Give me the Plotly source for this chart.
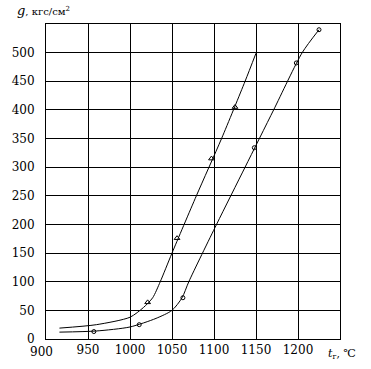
import plotly.graph_objects as go

# curve 1 (triangles)
c1_x = [916, 960, 1000, 1016, 1027, 1036, 1050, 1079, 1109, 1137, 1150]
c1_y = [19, 25, 38, 55, 72, 100, 150, 250, 350, 450, 499]
p1_x = [1021, 1056, 1097, 1125]
p1_y = [64, 176, 315, 405]

# curve 2 (circles)
c2_x = [916, 960, 1000, 1031, 1050, 1062, 1070, 1103, 1137, 1171, 1205, 1225]
c2_y = [12, 14, 21, 36, 50, 72, 100, 200, 300, 400, 500, 540]
p2_x = [957, 1011, 1063, 1148, 1198, 1225]
p2_y = [13, 25, 72, 334, 482, 540]

x_ticks = [900, 950, 1000, 1050, 1100, 1150, 1200]
x_labels = ["900", "950", "1000", "1050", "1100", "1150", "1200"]
y_ticks = [0, 50, 100, 150, 200, 250, 300, 350, 400, 450, 500]

SERIF = "DejaVu Serif"

fig = go.Figure()
fig.add_trace(go.Scatter(x=c1_x, y=c1_y, mode="lines", line=dict(color="black", width=1, shape="spline", smoothing=0.7), hoverinfo="skip"))
fig.add_trace(go.Scatter(x=c2_x, y=c2_y, mode="lines", line=dict(color="black", width=1, shape="spline", smoothing=0.7), hoverinfo="skip"))
fig.add_trace(go.Scatter(x=p1_x, y=p1_y, mode="markers", marker=dict(symbol="triangle-up-open", size=5, color="black", line=dict(width=1))))
fig.add_trace(go.Scatter(x=p2_x, y=p2_y, mode="markers", marker=dict(symbol="circle-open", size=4, color="black", line=dict(width=1))))

font = dict(family=SERIF, size=12, color="black")
# first x tick label drawn as annotation, nudged left as in the reference
shown_x = [("" if v == x_ticks[0] else lab) for v, lab in zip(x_ticks, x_labels)]
fig.update_layout(
    width=371, height=369,
    margin=dict(l=41, r=31, t=24, b=30),
    paper_bgcolor="white", plot_bgcolor="white",
    showlegend=False,
    font=font,
    xaxis=dict(range=[900, 1250], tickvals=x_ticks, ticktext=shown_x,
               showgrid=True, gridcolor="black", gridwidth=1, zeroline=False,
               showline=True, linecolor="black", linewidth=1, mirror=True,
               ticks="", ticklen=0, tickfont=font),
    yaxis=dict(range=[0, 550], tickvals=y_ticks, ticktext=[str(v) for v in y_ticks],
               showgrid=True, gridcolor="black", gridwidth=1, zeroline=False,
               showline=True, linecolor="black", linewidth=1, mirror=True,
               ticks="", ticklen=0, tickfont=font, ticklabelstandoff=8),
    annotations=[
        dict(text=x_labels[0], x=x_ticks[0], xref="x", yref="paper", y=0, yshift=-4, xshift=-5,
             xanchor="center", yanchor="top", showarrow=False, font=font),
        dict(text="<i><span style='font-size:13px'>g</span></i>, кгс/см<sup>2</sup>",
             xref="paper", yref="paper", x=-0.105, y=1.012,
             xanchor="left", yanchor="bottom", showarrow=False,
             font=dict(family=SERIF, size=10, color="black")),
        dict(text="<i>t</i><sub>г</sub>, ℃", xref="paper", yref="paper", x=0.953, y=-0.02,
             xanchor="left", yanchor="top", showarrow=False,
             font=dict(family=SERIF, size=11, color="black")),
    ],
)
fig.write_html("out.html")
